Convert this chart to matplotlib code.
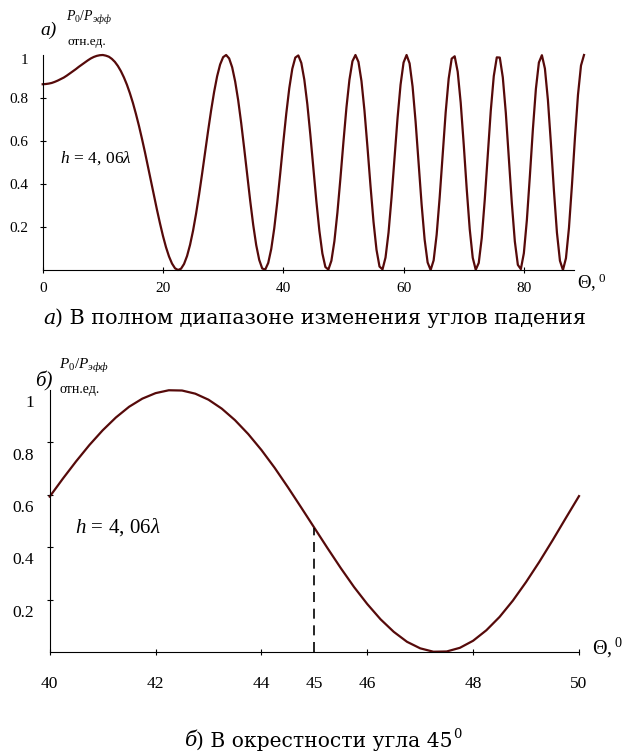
import numpy as np
import matplotlib.pyplot as plt
from matplotlib.transforms import ScaledTranslation

plt.rcParams['font.family'] = ['Liberation Serif', 'DejaVu Serif']
plt.rcParams['mathtext.fontset'] = 'custom'
plt.rcParams['mathtext.rm'] = 'Liberation Serif'
plt.rcParams['mathtext.it'] = 'Liberation Serif:italic'

# P0/Pэфф, in thousandths
theta_full = np.arange(0, 90.25, 0.5)
p_full = np.array([
    864, 865, 867, 870, 875, 881, 888, 895, 904, 914, 924, 934, 945, 955, 965, 975,
    984, 991, 996, 999, 1000, 997, 992, 982, 968, 949, 925, 896, 862, 822, 777, 726,
    671, 611, 548, 482, 414, 347, 280, 217, 158, 106, 63, 30, 8, 0, 6, 28, 65, 117,
    183, 262, 351, 447, 547, 647, 742, 828, 901, 956, 990, 1000, 984, 943, 877, 790,
    684, 566, 443, 322, 210, 116, 47, 7, 2, 33, 98, 194, 315, 451, 593, 728, 846, 936,
    988, 998, 963, 885, 771, 629, 474, 320, 183, 77, 14, 2, 43, 134, 267, 426, 595,
    755, 885, 971, 1000, 968, 879, 741, 571, 392, 225, 94, 16, 3, 58, 174, 337, 523,
    707, 862, 965, 1000, 961, 853, 690, 498, 305, 142, 35, 0, 45, 164, 337, 538, 733,
    890, 983, 994, 922, 778, 585, 377, 190, 57, 1, 33, 149, 327, 537, 741, 902, 989,
    988, 896, 731, 524, 311, 133, 24, 4, 78, 232, 437, 654, 842, 965, 999, 937, 791,
    588, 369, 174, 43, 0, 55, 196, 396, 617, 815, 951, 1000]) / 1000

theta_near = np.arange(40, 50.01, 0.25)
p_near = np.array([
    593, 662, 728, 790, 846, 895, 936, 967, 988, 999, 998, 986, 963, 929, 885, 832,
    771, 703, 629, 552, 474, 396, 320, 248, 183, 125, 77, 39, 14, 1, 2, 16, 43, 83,
    134, 196, 267, 344, 426, 511, 595]) / 1000

full_xticks = [0, 20, 40, 60, 80]
near_xticks = [40, 42, 44, 45, 46, 48, 50]
yticks = [0.2, 0.4, 0.6, 0.8, 1.0]
ylabels = ['0.2', '0.4', '0.6', '0.8', '1']
mark_angle = 45

W, H = 623, 753
fig = plt.figure(figsize=(W / 100, H / 100), dpi=100)
line_color = '#560a0a'


def px(x, y):
    return x / W, 1 - y / H


def style_axes(ax, xbound, fs, xpad, ypad):
    for s in ['top', 'right']:
        ax.spines[s].set_visible(False)
    ax.spines['bottom'].set_bounds(*xbound)
    ax.spines['left'].set_bounds(0, 1)
    ax.tick_params(direction='inout', length=5, width=0.8, labelsize=fs)
    ax.tick_params(axis='x', pad=xpad)
    ax.tick_params(axis='y', pad=ypad)
    ax.set_yticks(yticks)
    ax.set_yticklabels(ylabels)
    ax.yaxis.get_major_ticks()[-1].tick1line.set_visible(False)


# top panel: full range
ax1 = fig.add_axes([42.7 / W, 1 - 270 / H, 541.3 / W, 215 / H])
ax1.plot(theta_full, p_full, color=line_color, lw=1.6, clip_on=False)
ax1.set_xlim(0, 90)
ax1.set_ylim(0, 1)
style_axes(ax1, (0, 88.3), 11, 6, 8)
ax1.set_xticks(full_xticks)
ax1.get_yticklabels()[-1].set_transform(
    ax1.get_yticklabels()[-1].get_transform()
    + ScaledTranslation(0, -3 / 72, fig.dpi_scale_trans))

# bottom panel: near 45 deg
ax2 = fig.add_axes([49.7 / W, 1 - 652 / H, 529.3 / W, 262 / H])
ax2.plot(theta_near, p_near, color=line_color, lw=1.6, clip_on=False)
ax2.vlines(mark_angle, 0, p_near[theta_near == mark_angle][0], colors='black',
           linestyles=(0, (6, 4)), lw=1.2)
ax2.set_xlim(40, 50)
ax2.set_ylim(0, 1)
style_axes(ax2, (40, 50), 12.5, 15, 9)
ax2.set_xticks(near_xticks)
ax2.xaxis.get_major_ticks()[near_xticks.index(mark_angle)].tick1line.set_visible(False)
shift = ScaledTranslation(0, -8 / 72, fig.dpi_scale_trans)
for lab in ax2.get_yticklabels():
    lab.set_transform(lab.get_transform() + shift)

# axis titles and panel marks
for (lx, ly), fs in [((577, 283), 13.5), ((592, 648), 14.5)]:
    fig.text(*px(lx, ly), r'$\Theta,^{0}$', fontsize=fs, va='center')

fig.text(*px(40, 30), 'а)', style='italic', fontsize=14, va='center')
fig.text(*px(66, 18), r'$P_0/P_{\mathit{эфф}}$', fontsize=10, va='center')
fig.text(*px(67, 42), 'отн.ед.', fontsize=9.5, va='center')
fig.text(*px(60, 158), r'$h\,=\,4,\,06\lambda$', fontsize=12.5, va='center')

fig.text(*px(35, 381), 'б)', style='italic', fontsize=15, va='center')
fig.text(*px(59, 366), r'$P_0/P_{\mathit{эфф}}$', fontsize=11, va='center')
fig.text(*px(60, 390), 'отн.ед.', fontsize=10, va='center')
fig.text(*px(75, 527), r'$h\,=\,4,\,06\lambda$', fontsize=15, va='center')

# captions
renderer = fig.canvas.get_renderer()
cap_font = ['DejaVu Serif']


def caption(x0, y, parts, fs):
    x = x0
    for txt, st, dy, scale in parts:
        t = fig.text(*px(x, y - dy), txt, fontsize=fs * scale, style=st,
                     family=cap_font, va='center')
        x += t.get_window_extent(renderer).width


caption(43, 318, [('а', 'italic', 0, 1), (') В полном диапазоне изменения углов падения', 'normal', 0, 1)], 14.9)
caption(184, 741, [('б', 'italic', 0, 1), (') В окрестности угла 45', 'normal', 0, 1),
                   ('0', 'normal', 6, 0.65)], 14.6)

fig.savefig('out.png', dpi=100)
